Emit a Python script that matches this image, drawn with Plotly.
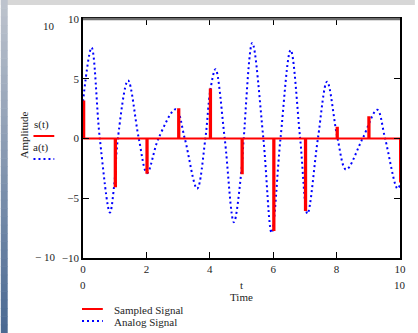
import plotly.graph_objects as go

# ---------------- data ----------------
t_analog = [0, 0.27, 0.53, 0.85, 0.98, 1.1, 1.42, 1.76, 2.02, 2.38, 2.93, 3.21, 3.6, 3.86,
            4.02, 4.18, 4.47, 4.76, 4.99, 5.07, 5.34, 5.69, 5.95, 6.23, 6.55, 6.85, 7.08,
            7.41, 7.7, 8.03, 8.3, 8.82, 9.28, 9.53, 9.92, 10]
a_values = [3.1, 7.6, 0, -6.2, -4.0, 0, 4.85, 0, -2.9, 0, 2.45, 0, -4.2, 0,
            4.1, 5.8, 0, -7.0, -2.9, 0, 8.0, 0, -7.9, 0, 7.4, 0, -6.3,
            0, 4.75, 0, -2.6, 0, 2.4, 0, -4.2, -3.9]
t_samples = [0, 1, 2, 3, 4, 5, 6, 7, 8, 9, 10]
s_values = [3.1, -4.0, -2.86, 2.44, 4.1, -2.9, -7.66, -5.98, 0.9, 1.77, -3.6]
x_ticks = [0, 2, 4, 6, 8, 10]
x_tick_labels = ["0", "2", "4", "6", "8", "10"]
y_ticks = [-10, -5, 0, 5, 10]
y_tick_labels = ["\u221210", "\u22125", "0", "5", "10"]

# ---------------- layout helpers ----------------
W, H = 418, 333
L, R, T, B = 83, 15, 19, 75
PW, PH = W - L - R, H - T - B
FONT = "Liberation Serif, Times New Roman, serif"
TXT = "#1e1e1e"


def px(x):
    return (x - L) / PW


def py(y):
    return (H - B - y) / PH


# sampled-signal pulses built from the sample arrays
pulse_w = 0.04
sx, sy = [], []
for n, v in zip(t_samples, s_values):
    sx += [n, n, n + pulse_w, n + pulse_w]
    sy += [0, v, v, 0]

fig = go.Figure()
fig.add_trace(go.Scatter(x=t_analog, y=a_values, mode="lines",
                         line=dict(color="#0000ff", width=2, dash="2px,3px", shape="spline", smoothing=1.0),
                         showlegend=False, hoverinfo="skip"))
fig.add_trace(go.Scatter(x=sx, y=sy, mode="lines",
                         line=dict(color="#ff0000", width=2),
                         showlegend=False, hoverinfo="skip"))

shapes = []
# background: top band and left gradient strip
shapes.append(dict(type="rect", xref="paper", yref="paper", x0=px(0), x1=px(W), y0=py(5), y1=py(0),
                   fillcolor="#d7d7d7", line=dict(width=0), layer="below"))
n_strips = 40
c0 = (0xbd, 0xc3, 0xcd)
c1 = (0x4a, 0x69, 0x92)
for i in range(n_strips):
    f = i / (n_strips - 1)
    c = tuple(int(round(c0[k] + (c1[k] - c0[k]) * f)) for k in range(3))
    ya = H * i / n_strips
    yb = H * (i + 1) / n_strips
    shapes.append(dict(type="rect", xref="paper", yref="paper", x0=px(0), x1=px(7),
                       y0=py(yb + 0.5), y1=py(ya), fillcolor="rgb(%d,%d,%d)" % c,
                       line=dict(width=0), layer="below"))
# grey top border
shapes.append(dict(type="line", xref="paper", yref="paper", x0=0, x1=1, y0=1, y1=1,
                   line=dict(color="#6e6e6e", width=2.5)))
# left legend keys
shapes.append(dict(type="line", xref="paper", yref="paper", x0=px(33), x1=px(54), y0=py(136), y1=py(136),
                   line=dict(color="#ff0000", width=2)))
shapes.append(dict(type="line", xref="paper", yref="paper", x0=px(33), x1=px(54), y0=py(159), y1=py(159),
                   line=dict(color="#0000ff", width=2, dash="2px,3px")))
# bottom legend keys
shapes.append(dict(type="line", xref="paper", yref="paper", x0=px(82), x1=px(103), y0=py(309), y1=py(309),
                   line=dict(color="#ff0000", width=2)))
shapes.append(dict(type="line", xref="paper", yref="paper", x0=px(82), x1=px(103), y0=py(321), y1=py(321),
                   line=dict(color="#0000ff", width=2, dash="2px,3px")))

ann = []


def text(x, y, s, xanchor="center", angle=0, size=11):
    ann.append(dict(x=px(x), y=py(y), xref="paper", yref="paper", text=s, showarrow=False,
                    xanchor=xanchor, yanchor="middle", textangle=angle,
                    font=dict(family=FONT, size=size, color=TXT)))


text(57, 26, "10", xanchor="right")
text(57, 257, "\u2212 10", xanchor="right")
text(83, 285, "0")
text(403, 285, "10")
text(243, 285, "t")
text(243, 297, "Time")
text(23, 135, "Amplitude", angle=-90)
text(41, 124, "s(t)")
text(41, 147, "a(t)")
text(112, 310, "Sampled Signal", xanchor="left")
text(112, 322, "Analog Signal", xanchor="left")

fig.update_layout(
    width=W, height=H,
    margin=dict(l=L, r=R, t=T, b=B),
    paper_bgcolor="white", plot_bgcolor="white",
    shapes=shapes, annotations=ann,
    font=dict(family=FONT, size=11, color=TXT),
    xaxis=dict(range=[0, 10], tickvals=x_ticks, ticktext=x_tick_labels, showgrid=False,
               zeroline=False, showline=True, linecolor="black", linewidth=1.5, mirror="ticks",
               ticks="inside", ticklen=6, tickcolor="black", tickwidth=1,
               tickfont=dict(family=FONT, size=11, color=TXT)),
    yaxis=dict(range=[-10, 10], tickvals=y_ticks, ticktext=y_tick_labels, showgrid=False,
               zeroline=False, showline=True, linecolor="black", linewidth=1.5, mirror="ticks",
               ticks="inside", ticklen=6, tickcolor="black", tickwidth=1,
               tickfont=dict(family=FONT, size=11, color=TXT)),
)

fig.write_html("out.html", config={"displayModeBar": False},
               post_script="document.body.style.margin='0';document.body.style.overflow='hidden';")
